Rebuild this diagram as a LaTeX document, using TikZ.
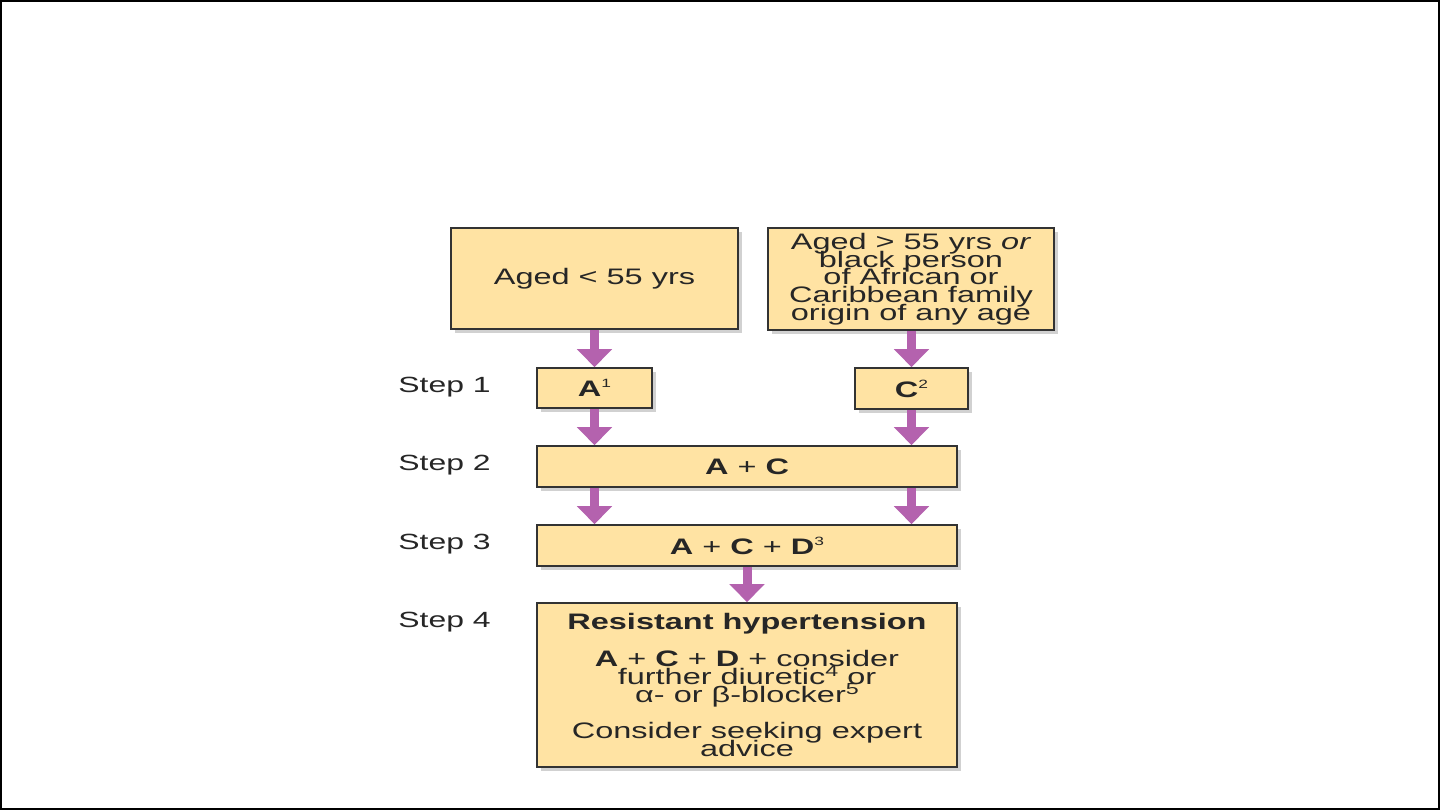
\documentclass[tikz,border=0pt]{standalone}
\usepackage{fontspec}
\setmainfont{Liberation Sans}[FakeStretch=1.45]
\usetikzlibrary{arrows.meta,shadows}
\definecolor{boxfill}{HTML}{FFE3A3}
\definecolor{arrowpurple}{HTML}{B462AE}
\definecolor{boxline}{HTML}{333333}
\newcommand\supnum[1]{\raisebox{4.5pt}{\fontsize{6}{6}\selectfont #1}}
\newcommand\supbig[1]{\raisebox{4pt}{\fontsize{8}{8}\selectfont #1}}
\newcommand\boxfont{\fontsize{11.2}{8.9}\selectfont\lineskiplimit=-20pt\relax\lineskip=0pt\relax}
\begin{document}
\begin{tikzpicture}[x=0.5pt,y=-0.5pt,
  box/.style={draw=boxline, line width=0.8pt, fill=boxfill, inner sep=0pt, align=center,
    text=black!85, font=\boxfont,
    drop shadow={shadow xshift=2pt, shadow yshift=-2pt, opacity=0.3, fill=black!60}},
  steplabel/.style={anchor=west, inner sep=0pt, text=black!85, font=\fontsize{11}{13}\selectfont},
  flow/.style={draw=arrowpurple, line width=4.5pt, -{Triangle[width=17pt,length=9pt]}}]
\useasboundingbox (0,0) rectangle (1440,810);
\draw[line width=1pt] (1,1) rectangle (1439,809);

\node[box, minimum width=143.5pt, minimum height=50.5pt] (young) at (594.5,278.5) {Aged < 55 yrs};
\node[box, minimum width=143pt, minimum height=51pt] (old) at (911,279)
  {Aged > 55 yrs \textit{or}\\black person\\of African or\\Caribbean family\\origin of any age};
\node[box, minimum width=57.5pt, minimum height=20pt] (A) at (594.5,388) {\textbf{A}\supnum{1}};
\node[box, minimum width=56.5pt, minimum height=20.5pt] (C) at (911.5,388.5) {\textbf{C}\supnum{2}};
\node[box, minimum width=210pt, minimum height=20.5pt] (AC) at (747,466.5) {\textbf{A} + \textbf{C}};
\node[box, minimum width=210pt, minimum height=20.5pt] (ACD) at (747,545.5) {\textbf{A} + \textbf{C} + \textbf{D}\supnum{3}};
\node[box, minimum width=210pt, minimum height=82pt] (R) at (747,685)
  {\textbf{Resistant hypertension}\\[9.8pt]
   \textbf{A} + \textbf{C} + \textbf{D} + consider\\
   further diuretic\supbig{4} or\\
   α- or β-blocker\supbig{5}\\[9.3pt]
   Consider seeking expert\\advice};

\node[steplabel] (s1) at (398,387) {Step 1};
\node[steplabel] (s2) at (398,465) {Step 2};
\node[steplabel] (s3) at (398,544) {Step 3};
\node[steplabel] (s4) at (398,622) {Step 4};

\draw[flow] (young.south) -- (A.north);
\draw[flow] (C.north |- old.south) -- (C.north);
\draw[flow] (A.south) -- (A.south |- AC.north);
\draw[flow] (C.south) -- (C.south |- AC.north);
\draw[flow] (AC.south -| A.south) -- (ACD.north -| A.south);
\draw[flow] (AC.south -| C.south) -- (ACD.north -| C.south);
\draw[flow] (ACD.south) -- (R.north);
\end{tikzpicture}
\end{document}
